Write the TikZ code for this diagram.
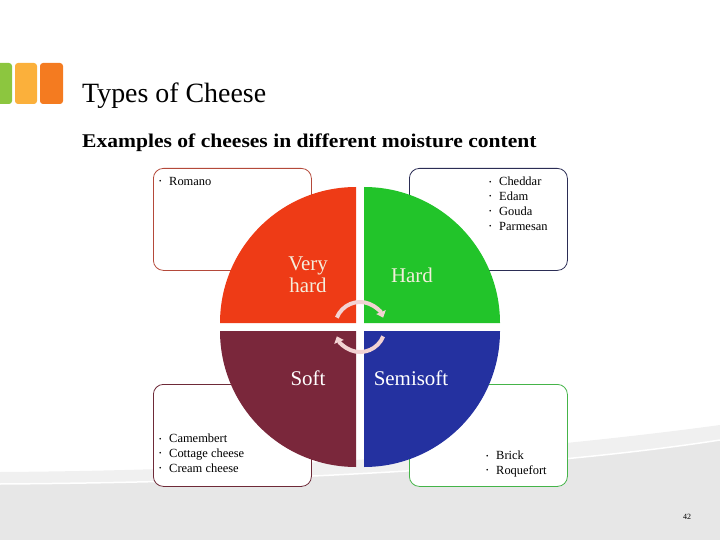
\documentclass[tikz,border=0pt]{standalone}
\usepackage{fontspec}
\setmainfont{Liberation Serif}
\usepackage{tikz}
\usetikzlibrary{
  arrows.meta,
  positioning,
  calc
}
\definecolor{chVhard}{HTML}{EE3B16}
\definecolor{chHard}{HTML}{22C42A}
\definecolor{chSoft}{HTML}{7A273B}
\definecolor{chSemi}{HTML}{2431A0}
\definecolor{chVhardLine}{HTML}{B4493A}
\definecolor{chHardLine}{HTML}{2B2D55}
\definecolor{chSoftLine}{HTML}{6E2A38}
\definecolor{chSemiLine}{HTML}{45B449}
\definecolor{chCycle}{HTML}{F3D3D3}
\definecolor{chCream}{HTML}{F4EEDC}
\definecolor{chGrey}{HTML}{E7E7E7}
\definecolor{chGreyLight}{HTML}{F0F0F0}
\definecolor{chLogoA}{HTML}{8CC63F}
\definecolor{chLogoB}{HTML}{FBB03B}
\definecolor{chLogoC}{HTML}{F47B20}
\newcommand{\chitem}[1]{\makebox[10bp][l]{\raisebox{1.8bp}{\fontsize{7}{7}\selectfont\textbullet}}#1}
\tikzset{
  listbox/.style={
    draw, rounded corners=10pt, minimum width=158bp, minimum height=102bp,
    line width=0.8bp, fill=white, inner sep=0pt
  },
  listtext/.style={font=\fontsize{12.5}{15}\selectfont, align=left, inner sep=0pt},
  quadlabel/.style={font=\fontsize{21}{22}\selectfont, align=center, inner sep=0pt},
  logobar/.style={rounded corners=3pt},
  cycle/.style={chCycle, line width=4bp, -{Triangle[width=10bp,length=6bp]}}
}

\begin{document}
\begin{tikzpicture}[x=1bp, y=-1bp, node distance=10bp]
  \useasboundingbox (0,0) rectangle (720,540);
  % background swoosh
  \fill[chGreyLight] (0,472) .. controls (300,470) and (550,448) .. (720,425)
    -- (720,540) -- (0,540) -- cycle;
  \fill[chGrey] (0,484) .. controls (300,482) and (560,465) .. (720,440)
    -- (720,540) -- (0,540) -- cycle;
  \draw[white, line width=1.5bp] (0,484) .. controls (300,482) and (560,465) .. (720,440);
  % logo
  \fill[logobar, chLogoA] (-10,63) rectangle (12,104);
  \fill[logobar, chLogoB] (15,63) rectangle (37,104);
  \fill[logobar, chLogoC] (40,63) rectangle (63,104);
  % titles
  \node[anchor=base west, inner sep=0pt, font=\fontsize{28}{30}\selectfont] (title)
    at (82,103) {Types of Cheese};
  \node[anchor=base west, inner sep=0pt, font=\fontsize{19.5}{22}\selectfont\bfseries] (subtitle)
    at (82,148) {\scalebox{1.11}[1]{Examples of cheeses in different moisture content}};
  % boxes behind the circle
  \node[listbox, draw=chVhardLine, anchor=north west] (vhbox) at (153,168) {};
  \node[listbox, draw=chHardLine, anchor=north west] (hbox) at (409,168) {};
  \node[listbox, draw=chSoftLine, anchor=north west] (sbox) at (153,384) {};
  \node[listbox, draw=chSemiLine, anchor=north west] (ssbox) at (409,384) {};
  \node[listtext, below right=9bp and 6bp of vhbox.north west] (vhlist) {\chitem{Romano}};
  \node[listtext, below right=9bp and 80bp of hbox.north west] (hlist)
    {\chitem{Cheddar}\\\chitem{Edam}\\\chitem{Gouda}\\\chitem{Parmesan}};
  \node[listtext, below right=50bp and 6bp of sbox.north west] (slist)
    {\chitem{Camembert}\\\chitem{Cottage cheese}\\\chitem{Cream cheese}};
  \node[listtext, below right=67bp and 77bp of ssbox.north west] (sslist)
    {\chitem{Brick}\\\chitem{Roquefort}};
  % quadrants
  \coordinate (c) at (360,327);
  \fill[chVhard] (356,323) -- (220,323) arc[start angle=180, end angle=270, radius=136] -- cycle;
  \fill[chHard] (364,323) -- (364,187) arc[start angle=270, end angle=360, radius=136] -- cycle;
  \fill[chSemi] (364,331) -- (500,331) arc[start angle=0, end angle=90, radius=136] -- cycle;
  \fill[chSoft] (356,331) -- (356,467) arc[start angle=90, end angle=180, radius=136] -- cycle;
  % cycle arrows
  \draw[cycle] (c) ++(202:25) arc[start angle=202, end angle=338, radius=25];
  \draw[cycle] (c) ++(22:25) arc[start angle=22, end angle=158, radius=25];
  % labels
  \node[quadlabel, text=chCream] (vhard) at (308,275) {Very\\hard};
  \node[quadlabel, text=chCream] (hard) at (412,275) {Hard};
  \node[quadlabel, text=white] (soft) at (308,378) {Soft};
  \node[quadlabel, text=white] (semi) at (411,378) {Semisoft};
  \node[font=\fontsize{8}{8}\selectfont, inner sep=0pt] (page) at (687,517) {42};
\end{tikzpicture}
\end{document}
